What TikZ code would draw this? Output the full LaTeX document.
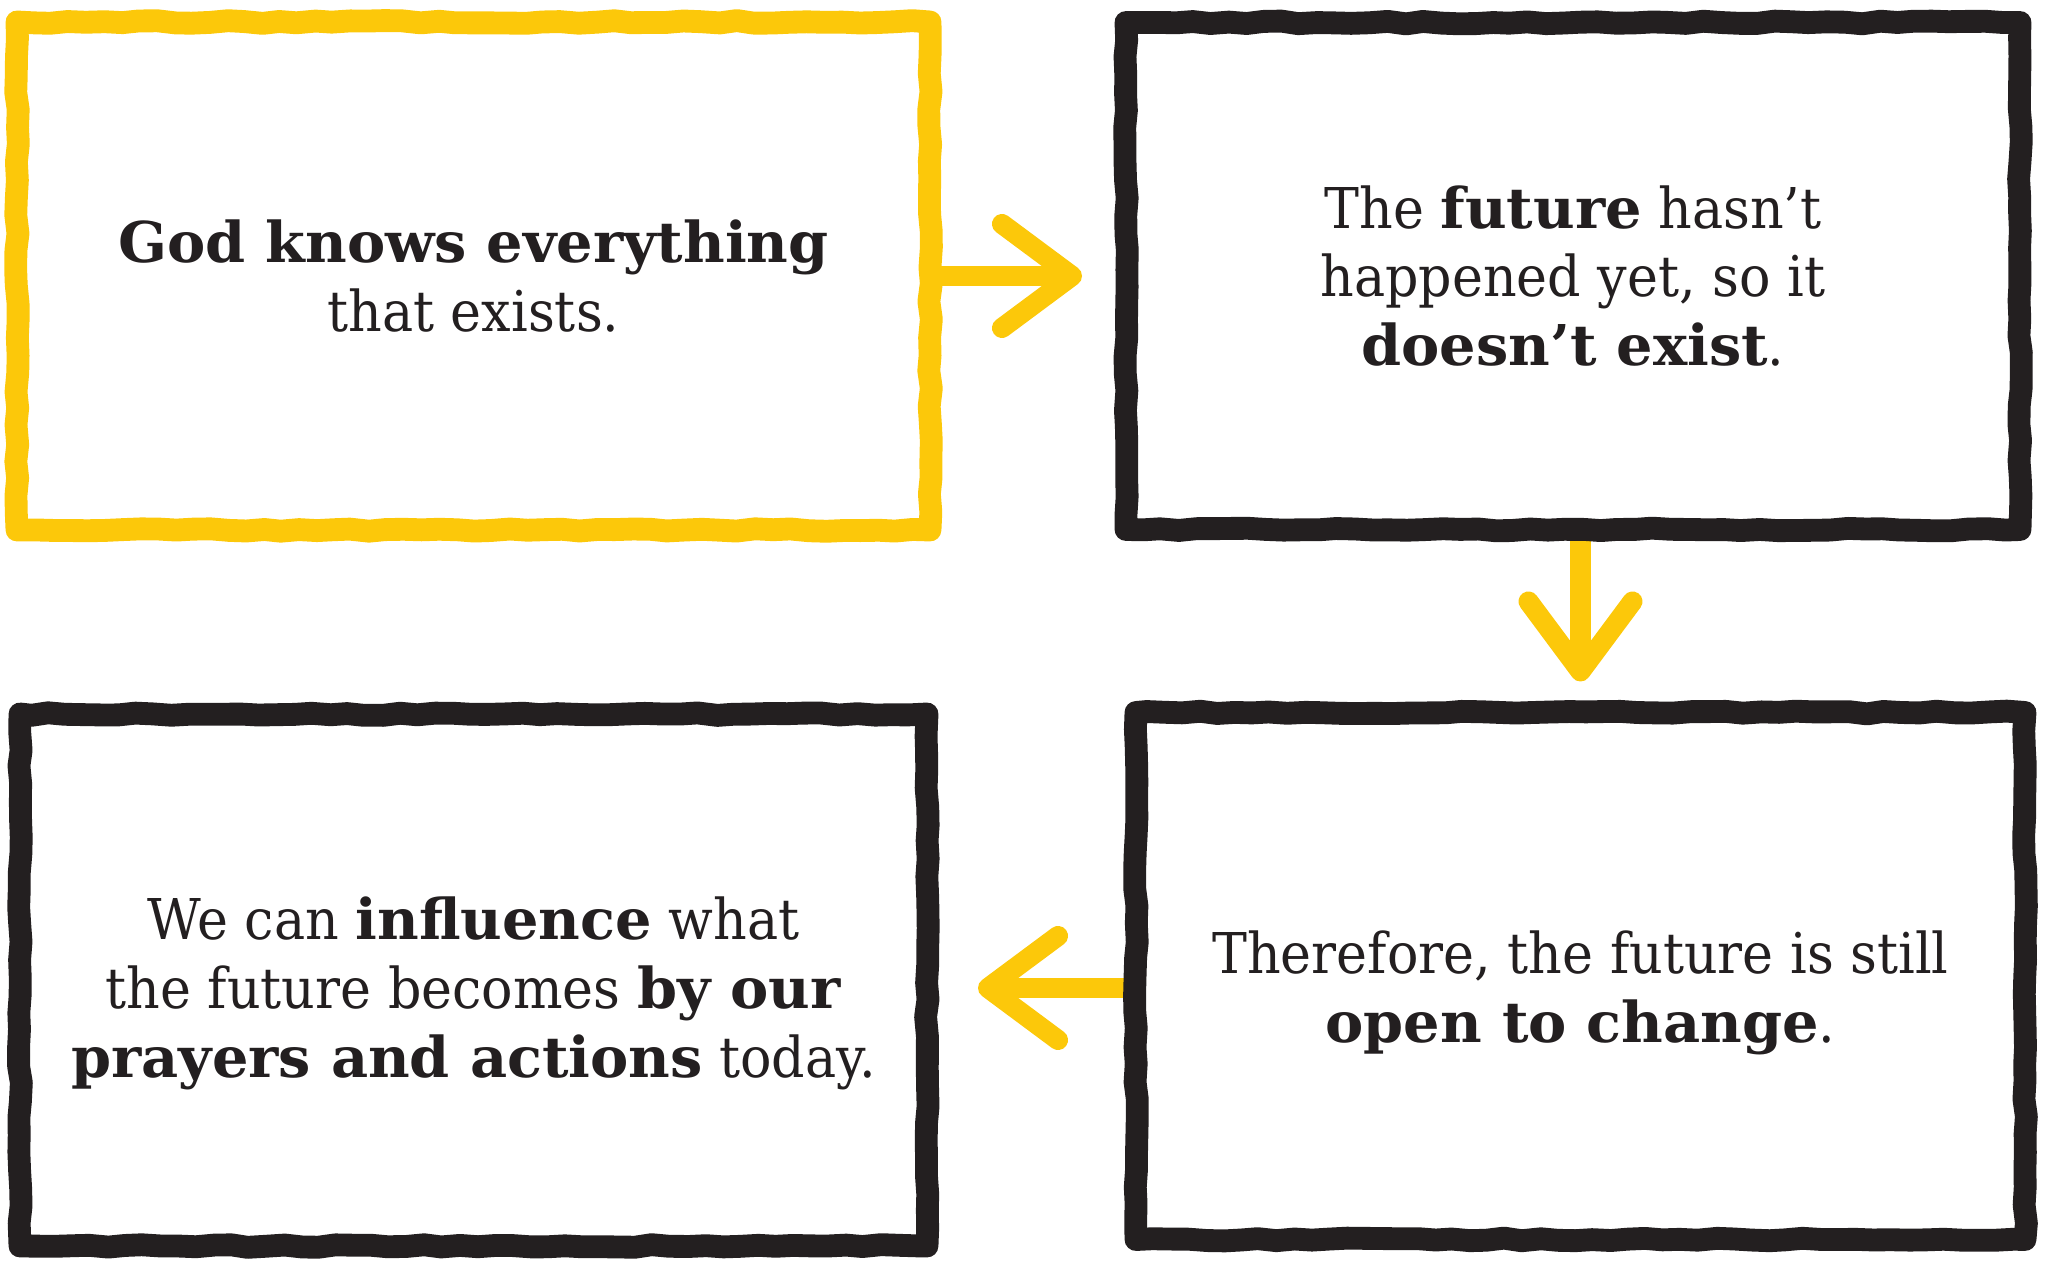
\documentclass[tikz,border=0pt]{standalone}
\usepackage{fontspec}
\setmainfont{DejaVu Serif}[FakeStretch=0.93,BoldFeatures={FakeStretch=1.02}]
\usetikzlibrary{arrows.meta,positioning,backgrounds,decorations.pathmorphing}
\definecolor{ink}{HTML}{231F20}
\definecolor{gold}{HTML}{FCC80A}
% invisible strut on a first line: sinks the text block a little
\newcommand{\sinktext}[1]{\rule{0pt}{#1}}

\begin{document}
\pgfmathsetseed{11}
\begin{tikzpicture}[line join=round,
  card/.style={draw=ink,line width=6.5pt,outer sep=0pt,inner sep=0pt,
    align=center,text=ink,font=\fontsize{16}{19.6}\selectfont,
    decorate,decoration={random steps,segment length=5pt,amplitude=.4pt}},
  arr/.style={draw=gold,line width=5.7pt,line cap=round,
    -{Straight Barb[round,length=7mm,width=10.4mm]}}]
\useasboundingbox (0,0) rectangle (20.48,-12.62);

% ============ TOP ROW ============
\node[card,draw=gold,minimum width=9.13cm,minimum height=5.08cm] (k1) at (4.735,-2.76)
  {\textbf{God knows everything}\\that exists.};
\node[card,minimum width=8.94cm,minimum height=5.07cm,right=1.96cm of k1] (k2)
  {The \textbf{future} hasn’t\\happened yet, so it\\\textbf{doesn’t exist}.};

% ============ BOTTOM ROW ============
\node[card,minimum width=8.89cm,minimum height=5.27cm,below=1.83cm of k2,xshift=.75mm] (k3)
  {\sinktext{.77cm}Therefore, the future is still\\\textbf{open to change}.};
\node[card,minimum width=9.07cm,minimum height=5.32cm,below=1.84cm of k1] (k4)
  {\sinktext{.69cm}We can \textbf{influence} what\\the future becomes \textbf{by our}\\
   \textbf{prayers and actions} today.};

% arrows go under the frames
\begin{scope}[on background layer]
 \draw[arr,shorten >=4.4mm] (k1.east) -- (k2.west);
 \draw[arr,shorten >=3.1mm] (k3.north |- k2.south) -- (k3.north);
 \draw[arr,shorten >=5.1mm] ([yshift=-1.2mm]k3.west) -- ([yshift=-1.2mm]k3.west -| k4.east);
\end{scope}
\end{tikzpicture}
\end{document}
